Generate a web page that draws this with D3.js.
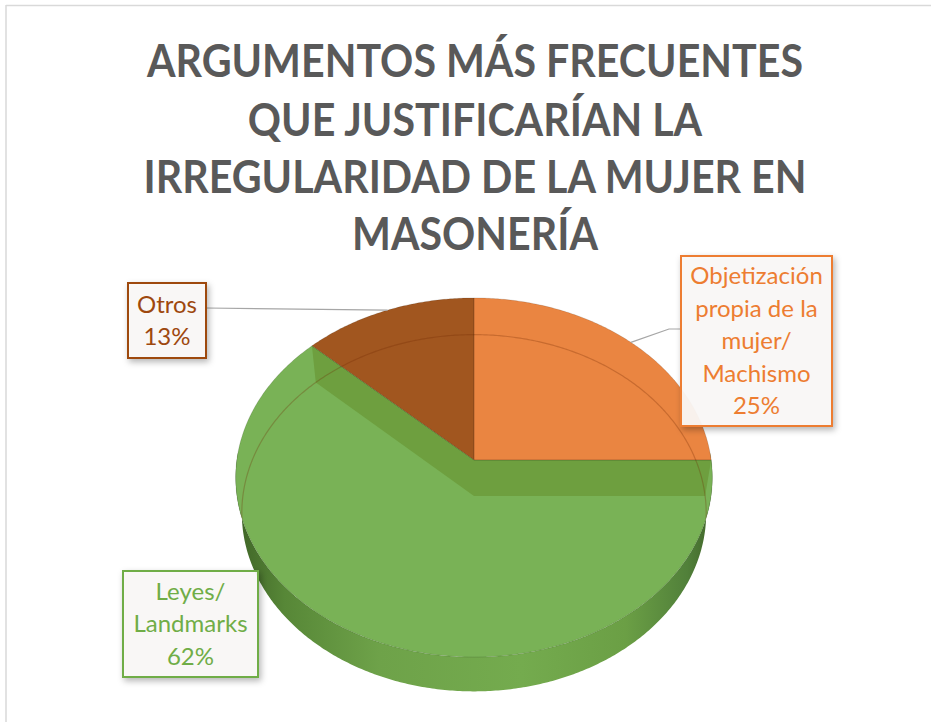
<!DOCTYPE html>
<html><head><meta charset="utf-8">
<script src="https://cdn.jsdelivr.net/npm/d3@7"></script>
<style>body{margin:0;background:#fff}svg{display:block}</style>
</head><body>
<svg id="chart" width="931" height="722"></svg>
<script>
// ---------- data ----------
const titleLines = ["ARGUMENTOS MÁS FRECUENTES", "QUE JUSTIFICARÍAN LA", "IRREGULARIDAD DE LA MUJER EN", "MASONERÍA"];
const categories = ["Objetización propia de la mujer/ Machismo", "Leyes/ Landmarks", "Otros"];
const values = [25, 62, 13];
const labelLines = [["Objetización", "propia de la", "mujer/", "Machismo"], ["Leyes/", "Landmarks"], ["Otros"]];

// ---------- styles / layout ----------
const topColors = ["#EA8541", "#79B256", "#A1561F"];
const textColors = ["#ED7D31", "#70AD47", "#9E480E"];
const boxes = [
  {x: 681, y: 256, w: 151, h: 170, leader: true},
  {x: 123, y: 571, w: 135, h: 106, leader: false},
  {x: 128, y: 283, w: 78, h: 75, leader: true}
];
const W = 931, H = 722;
const cx = 474, cy = 460;
const D = 6.78, cA = 0.661, sA = 0.75, F = 1608, TH = 0.236;

const svg = d3.select("#chart");
const defs = svg.append("defs");

// frame
svg.append("line").attr("x1", 6).attr("x2", 6).attr("y1", 5).attr("y2", H).attr("stroke", "#d9d9d9").attr("stroke-width", 1.5);
svg.append("line").attr("x1", 6).attr("x2", W).attr("y1", 5.5).attr("y2", 5.5).attr("stroke", "#d9d9d9").attr("stroke-width", 1.5);

// title
const title = svg.append("g").attr("font-family", "Lato, 'Open Sans', sans-serif").attr("font-weight", 700).attr("fill", "#595959").attr("text-anchor", "middle");
const tBase = [77, 136, 193, 250];
const tSize = 46;
const tl = title.selectAll("text").data(titleLines).join("text")
  .attr("x", 475).attr("y", (d, i) => tBase[i]).attr("font-size", tSize).text(d => d);
const widths = tl.nodes().map(n => n.getComputedTextLength());
const k = 656 / widths[0];
tl.attr("textLength", (d, i) => widths[i] * k).attr("lengthAdjust", "spacingAndGlyphs");

// projection of the 3D disc
function P(theta, r, Y) {
  const X = r * Math.sin(theta), Z = r * Math.cos(theta);
  const d = D + Z * cA - Y * sA;
  return [cx + F * X / d, cy - F * (Y * cA + Z * sA) / d];
}
function rimPts(a0, a1, Y) {
  const n = Math.max(2, Math.ceil(Math.abs(a1 - a0) / 0.01));
  return d3.range(n + 1).map(i => P(a0 + (a1 - a0) * i / n, 1, Y));
}
const line = d3.line();
function sectorPath(a0, a1) { return line([P(0, 0, 0), ...rimPts(a0, a1, 0)]) + "Z"; }

const arcs = d3.pie().sort(null).value(d => d).startAngle(0).endAngle(2 * Math.PI)(values);

// side wall gradient
const grad = defs.append("linearGradient").attr("id", "side").attr("gradientUnits", "userSpaceOnUse")
  .attr("x1", 237).attr("x2", 711).attr("y1", 0).attr("y2", 0);
[[0, "#3f6427"], [0.1, "#578737"], [0.3, "#6ea249"], [0.6, "#74ab4e"], [0.82, "#6b9f45"], [0.95, "#51803a"], [1, "#42672a"]]
  .forEach(([o, c]) => grad.append("stop").attr("offset", o).attr("stop-color", c));

// shadow filter for labels
const flt = defs.append("filter").attr("id", "shadow").attr("x", "-20%").attr("y", "-20%").attr("width", "150%").attr("height", "150%");
flt.append("feDropShadow").attr("dx", 2).attr("dy", 3).attr("stdDeviation", 3).attr("flood-color", "#000").attr("flood-opacity", 0.3);

// clip paths
defs.append("clipPath").attr("id", "clipTop").append("path").attr("d", line(rimPts(0, 2 * Math.PI, 0)) + "Z");
const green = arcs[1];
defs.append("clipPath").attr("id", "clipGreen").append("path").attr("d", sectorPath(green.startAngle, green.endAngle));

const pie = svg.append("g");
// outer side wall (front half)
const sideTop = rimPts(Math.PI / 2 - 0.05, 3 * Math.PI / 2 + 0.05, 0);
const sideBot = rimPts(3 * Math.PI / 2 + 0.05, Math.PI / 2 - 0.05, -TH);
pie.append("path").attr("d", line([...sideTop, ...sideBot]) + "Z").attr("fill", "url(#side)");

// top faces
pie.selectAll("path.top").data(arcs).join("path").attr("class", "top")
  .attr("d", d => sectorPath(d.startAngle, d.endAngle))
  .attr("fill", (d, i) => topColors[i]);

// inner radial walls of green slice seen through its translucent top
const walls = pie.append("g").attr("clip-path", "url(#clipGreen)");
[green.startAngle, green.endAngle].forEach(a => {
  walls.append("path").attr("d", line([P(a, 0, 0), P(a, 1, 0), P(a, 1, -TH), P(a, 0, -TH)]) + "Z")
    .attr("fill", "#6E9F3F");
});
// bottom rim seen through the top
pie.append("path").attr("clip-path", "url(#clipTop)")
  .attr("d", line(rimPts(0, 2 * Math.PI, -TH)) + "Z")
  .attr("fill", "none").attr("stroke", "rgba(110,40,0,0.28)").attr("stroke-width", 1.2);
// slice edges
pie.selectAll("path.edge").data(arcs).join("path").attr("class", "edge")
  .attr("d", d => sectorPath(d.startAngle, d.endAngle))
  .attr("fill", "none").attr("stroke", "rgba(0,0,0,0.12)").attr("stroke-width", 1);

// labels
const lab = svg.append("g").attr("font-family", "Lato, 'Open Sans', sans-serif");
arcs.forEach((a, i) => {
  const b = boxes[i];
  const mid = (a.startAngle + a.endAngle) / 2;
  if (b.leader) {
    const e = P(mid, 1, 0);
    const right = b.x > cx;
    const bx = right ? b.x : b.x + b.w;
    const by = right ? 329 : 308;
    const pts = right ? [[bx, by], [bx - 12, by], e] : [[bx, by], e];
    lab.append("path").attr("d", line(pts)).attr("fill", "none").attr("stroke", "#a6a6a6").attr("stroke-width", 1.2);
  }
});
const lineGap = 32.5, fsize = 24;
arcs.forEach((a, i) => {
  const b = boxes[i];
  const g = lab.append("g");
  g.append("rect").attr("x", b.x).attr("y", b.y).attr("width", b.w).attr("height", b.h)
    .attr("fill", "#fbf9f8").attr("fill-opacity", 0.93).attr("stroke", textColors[i]).attr("stroke-width", 2)
    .attr("filter", "url(#shadow)");
  const lines = [...labelLines[i], d3.format(".0%")(a.data / d3.sum(values))];
  const n = lines.length;
  const y0 = b.y + b.h / 2 - (n - 1) * lineGap / 2;
  g.selectAll("text").data(lines).join("text")
    .attr("x", b.x + b.w / 2).attr("y", (d, k) => y0 + k * lineGap)
    .attr("dy", "0.35em").attr("text-anchor", "middle")
    .attr("font-size", fsize).attr("fill", textColors[i]).text(d => d);
});
</script>
</body></html>
